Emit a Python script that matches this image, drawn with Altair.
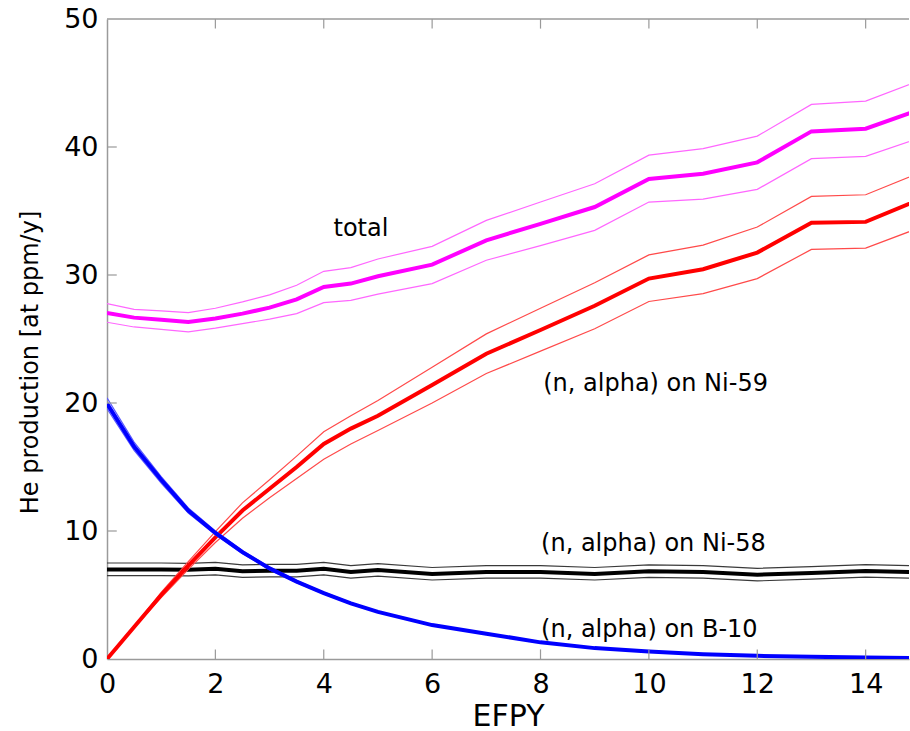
import altair as alt
import pandas as pd

# Effective full-power years at which the production rates were evaluated
efpy = [0, 0.5, 1, 1.5, 2, 2.5, 3, 3.5, 4, 4.5, 5, 6, 7, 8, 9, 10, 11, 12, 13, 14, 15]

# Total helium production: nominal, upper and lower bounds
total_mid = [27.03, 26.67, 26.5, 26.33, 26.6, 26.98, 27.45, 28.1, 29.07, 29.33, 29.9,
             30.81, 32.71, 34.0, 35.31, 37.5, 37.91, 38.8, 41.22, 41.43, 42.92]
total_hi = [27.77, 27.32, 27.2, 27.06, 27.4, 27.9, 28.45, 29.2, 30.29, 30.58, 31.25,
            32.24, 34.27, 35.7, 37.13, 39.36, 39.87, 40.85, 43.33, 43.58, 45.19]
total_lo = [26.31, 25.94, 25.75, 25.55, 25.85, 26.2, 26.55, 26.98, 27.84, 28.02, 28.5,
            29.33, 31.15, 32.3, 33.49, 35.7, 35.93, 36.69, 39.09, 39.27, 40.7]

# (n, alpha) on Ni-59
ni59_mid = [0, 2.5, 5.0, 7.3, 9.5, 11.6, 13.3, 15.0, 16.8, 18.0, 19.0,
            21.4, 23.85, 25.7, 27.6, 29.72, 30.45, 31.75, 34.08, 34.15, 35.9]
ni59_hi = [0, 2.55, 5.2, 7.6, 9.95, 12.2, 14.0, 15.85, 17.75, 19.0, 20.2,
           22.8, 25.4, 27.4, 29.4, 31.57, 32.33, 33.75, 36.14, 36.27, 38.0]
ni59_lo = [0, 2.45, 4.8, 7.0, 9.1, 11.0, 12.6, 14.1, 15.6, 16.8, 17.85,
           20.0, 22.3, 24.05, 25.8, 27.93, 28.55, 29.72, 32.0, 32.1, 33.7]

# (n, alpha) on Ni-58
ni58_mid = [7.0, 7.0, 7.0, 6.97, 7.05, 6.85, 6.9, 6.9, 7.05, 6.8, 6.95,
            6.65, 6.8, 6.8, 6.65, 6.85, 6.8, 6.58, 6.72, 6.88, 6.77]
ni58_hi = [7.5, 7.5, 7.5, 7.47, 7.55, 7.35, 7.4, 7.4, 7.55, 7.3, 7.45,
           7.15, 7.3, 7.3, 7.15, 7.35, 7.3, 7.08, 7.22, 7.38, 7.27]
ni58_lo = [6.52, 6.52, 6.52, 6.49, 6.57, 6.37, 6.42, 6.42, 6.57, 6.32, 6.47,
           6.17, 6.32, 6.32, 6.17, 6.37, 6.32, 6.1, 6.24, 6.4, 6.29]

# (n, alpha) on B-10
b10_mid = [19.95, 16.6, 14.0, 11.6, 9.85, 8.35, 7.08, 6.05, 5.15, 4.35, 3.68,
           2.65, 1.98, 1.3, 0.85, 0.58, 0.38, 0.25, 0.17, 0.12, 0.07]
b10_hi = [20.4, 16.95, 14.25, 11.8, 10.0, 8.47, 7.18, 6.13, 5.22, 4.41, 3.73,
          2.69, 2.01, 1.32, 0.87, 0.59, 0.39, 0.26, 0.18, 0.12, 0.07]
b10_lo = [19.55, 16.3, 13.75, 11.4, 9.7, 8.23, 6.98, 5.97, 5.08, 4.29, 3.63,
          2.61, 1.95, 1.28, 0.83, 0.57, 0.37, 0.24, 0.16, 0.12, 0.07]

# Curve labels placed inside the plot
label_text = ["total", "(n, alpha) on Ni-59", "(n, alpha) on Ni-58", "(n, alpha) on B-10"]
label_x = [4.18, 8.05, 8.01, 8.01]
label_y = [33.6, 21.5, 9.0, 2.25]

x_ticks = [0, 2, 4, 6, 8, 10, 12, 14]
y_ticks = [0, 10, 20, 30, 40, 50]
x_inner_ticks = [2, 4, 6, 8, 10, 12, 14]
y_inner_ticks = [10, 20, 30, 40]

X_MAX = 14.8
FONT = "DejaVu Sans"
FRAME = "#9a9a9a"

curves = {
    "ni58": (ni58_mid, ni58_hi, ni58_lo, "#000000", "#3a3a3a"),
    "ni59": (ni59_mid, ni59_hi, ni59_lo, "#ff0000", "#ff4a4a"),
    "b10": (b10_mid, b10_hi, b10_lo, "#0000ff", "#5a5aff"),
    "total": (total_mid, total_hi, total_lo, "#ff00ff", "#ff66ff"),
}

x_scale = alt.Scale(domain=[0, X_MAX], nice=False, zero=False)
y_scale = alt.Scale(domain=[0, 50], nice=False)

x_enc = alt.X(
    "efpy:Q", scale=x_scale, title="EFPY",
    axis=alt.Axis(values=x_ticks, format="d", ticks=True, tickSize=0,
                  labelPadding=12, titlePadding=4, labelFlush=False),
)
y_enc = alt.Y(
    "value:Q", scale=y_scale, title="He production [at ppm/y]",
    axis=alt.Axis(values=y_ticks, format="d", ticks=True, tickSize=0,
                  labelPadding=9, labelFlush=False,
                  titleX=-77, titleY=343, titleAlign="center",
                  titleBaseline="middle", titleAngle=270),
)

layers = []
for key, (mid, hi, lo, c_thick, c_thin) in curves.items():
    bands = pd.DataFrame({
        "efpy": efpy * 2,
        "value": hi + lo,
        "band": ["hi"] * len(efpy) + ["lo"] * len(efpy),
    })
    layers.append(
        alt.Chart(bands).mark_line(color=c_thin, strokeWidth=1.2, clip=True)
        .encode(x=x_enc, y=y_enc, detail="band:N")
    )
    main = pd.DataFrame({"efpy": efpy, "value": mid})
    layers.append(
        alt.Chart(main).mark_line(color=c_thick, strokeWidth=4, clip=True)
        .encode(x=x_enc, y=y_enc)
    )

# Inward-pointing tick marks on the bottom, top and left edges
xt = pd.DataFrame({"efpy": x_inner_ticks})
yt = pd.DataFrame({"value": y_inner_ticks})
layers.append(
    alt.Chart(xt).mark_rule(color=FRAME, strokeWidth=1.2)
    .encode(x=x_enc, y=alt.datum(0), y2=alt.datum(0.75))
)
layers.append(
    alt.Chart(xt).mark_rule(color=FRAME, strokeWidth=1.2)
    .encode(x=x_enc, y=alt.datum(50), y2=alt.datum(49.25))
)
layers.append(
    alt.Chart(yt).mark_rule(color=FRAME, strokeWidth=1.2)
    .encode(y=y_enc, x=alt.datum(0), x2=alt.datum(0.18))
)
# Top edge of the frame
layers.append(
    alt.Chart(pd.DataFrame({"value": [50]})).mark_rule(color=FRAME, strokeWidth=1.5)
    .encode(y=y_enc, x=alt.datum(0), x2=alt.datum(X_MAX))
)

labels = pd.DataFrame({"efpy": label_x, "value": label_y, "text": label_text})
layers.append(
    alt.Chart(labels).mark_text(align="left", baseline="middle", font=FONT,
                                fontSize=24, color="#000000")
    .encode(x=x_enc, y=y_enc, text="text:N")
)

chart = (
    alt.layer(*layers)
    .properties(
        width=802, height=640,
        autosize=alt.AutoSizeParams(type="none"),
        padding={"left": 107, "top": 19, "right": 1, "bottom": 72},
    )
    .configure_view(stroke=None)
    .configure_axis(
        grid=False, domainColor=FRAME, domainWidth=1.5,
        labelFont=FONT, labelFontSize=27, labelColor="#000000",
        titleFont=FONT, titleFontWeight="normal", titleColor="#000000",
    )
    .configure_axisX(titleFontSize=30)
    .configure_axisY(titleFontSize=24)
)

chart.save("out.html", embed_options={"renderer": "svg", "actions": False})
